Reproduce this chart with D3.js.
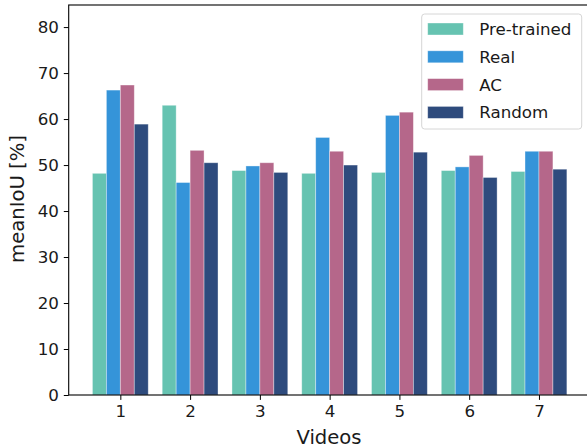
<!DOCTYPE html>
<html>
<head>
<meta charset="utf-8">
<script src="https://cdn.jsdelivr.net/npm/d3@7"></script>
<style>
  html, body { margin: 0; padding: 0; background: #fff; }
  svg { display: block; font-family: "DejaVu Sans", sans-serif; }
</style>
</head>
<body>
<svg id="chart" width="587" height="447"></svg>
<script>
// mean IoU per video for each model variant
const videos = ["1", "2", "3", "4", "5", "6", "7"];
const seriesNames = ["Pre-trained", "Real", "AC", "Random"];
const pretrained = [48.2, 63.0, 48.8, 48.2, 48.4, 48.8, 48.6];
const real       = [66.3, 46.2, 49.8, 56.0, 60.8, 49.6, 53.0];
const ac         = [67.4, 53.2, 50.5, 53.0, 61.5, 52.1, 53.0];
const random     = [58.9, 50.5, 48.4, 50.0, 52.8, 47.3, 49.1];
const yTicks = [0, 10, 20, 30, 40, 50, 60, 70, 80];
const colors = ["#66c3b1", "#3594d9", "#b5678a", "#2e4b7d"];

const seriesValues = [pretrained, real, ac, random];

const svg = d3.select("#chart");
const plotLeft = 68.7, plotTop = 5, plotBottom = 395;
// plot area continues past the right edge of the window
const plotRight = 590.6;

const x = d3.scaleLinear().domain([0.26, 7.74]).range([plotLeft, plotRight]);
const y = d3.scaleLinear().domain([0, 84.8]).range([plotBottom, plotTop]);

const groupWidth = 0.8;
const barW = groupWidth / seriesNames.length;

// bars
seriesValues.forEach((vals, s) => {
  svg.append("g")
    .selectAll("rect")
    .data(vals)
    .join("rect")
    .attr("x", (d, i) => x(i + 1 - groupWidth / 2 + s * barW))
    .attr("width", x(barW) - x(0))
    .attr("y", d => y(d))
    .attr("height", d => y(0) - y(d))
    .attr("fill", colors[s])
    .attr("stroke", "rgba(255,255,255,0.45)")
    .attr("stroke-width", 0.8);
});

// axes
const xAxis = d3.axisBottom(x)
  .tickValues(videos.map((v, i) => i + 1))
  .tickFormat((d, i) => videos[i])
  .tickSize(4.9).tickPadding(4.9);
const yAxis = d3.axisLeft(y)
  .tickValues(yTicks)
  .tickSize(4.9).tickPadding(4.9);

const gx = svg.append("g").attr("transform", `translate(0,${plotBottom})`).call(xAxis);
const gy = svg.append("g").attr("transform", `translate(${plotLeft},0)`).call(yAxis);
[gx, gy].forEach(g => {
  g.select(".domain").remove();
  g.selectAll(".tick line").attr("stroke", "#000").attr("stroke-width", 1);
  g.selectAll(".tick text").attr("fill", "#1a1a1a").style("font-size", "16.7px")
    .style("font-family", "DejaVu Sans, sans-serif");
});

// frame
svg.append("rect")
  .attr("x", plotLeft).attr("y", plotTop)
  .attr("width", plotRight - plotLeft).attr("height", plotBottom - plotTop)
  .attr("fill", "none").attr("stroke", "#000").attr("stroke-width", 1.1);

// axis titles
svg.append("text")
  .attr("x", 329).attr("y", 444)
  .attr("text-anchor", "middle")
  .style("font-size", "19.6px").attr("fill", "#1a1a1a")
  .text("Videos");
svg.append("text")
  .attr("transform", `translate(23.5,${(plotTop + plotBottom) / 2 - 1}) rotate(-90)`)
  .attr("text-anchor", "middle")
  .style("font-size", "19.6px").attr("fill", "#1a1a1a")
  .text("meanIoU [%]");

// legend
const lg = svg.append("g").attr("transform", "translate(421.7,14)");
lg.append("rect")
  .attr("width", 160).attr("height", 115).attr("rx", 3)
  .attr("fill", "rgba(255,255,255,0.8)")
  .attr("stroke", "#d6d6d6").attr("stroke-width", 1);
seriesNames.forEach((name, i) => {
  const cy = 15 + i * 27.8;
  lg.append("rect")
    .attr("x", 6).attr("y", cy - 6)
    .attr("width", 35.6).attr("height", 12)
    .attr("fill", colors[i])
    .attr("stroke", "rgba(255,255,255,0.45)").attr("stroke-width", 0.8);
  lg.append("text")
    .attr("x", 57.5).attr("y", cy + 6)
    .style("font-size", "16.7px").attr("fill", "#1a1a1a")
    .text(name);
});
</script>
</body>
</html>
